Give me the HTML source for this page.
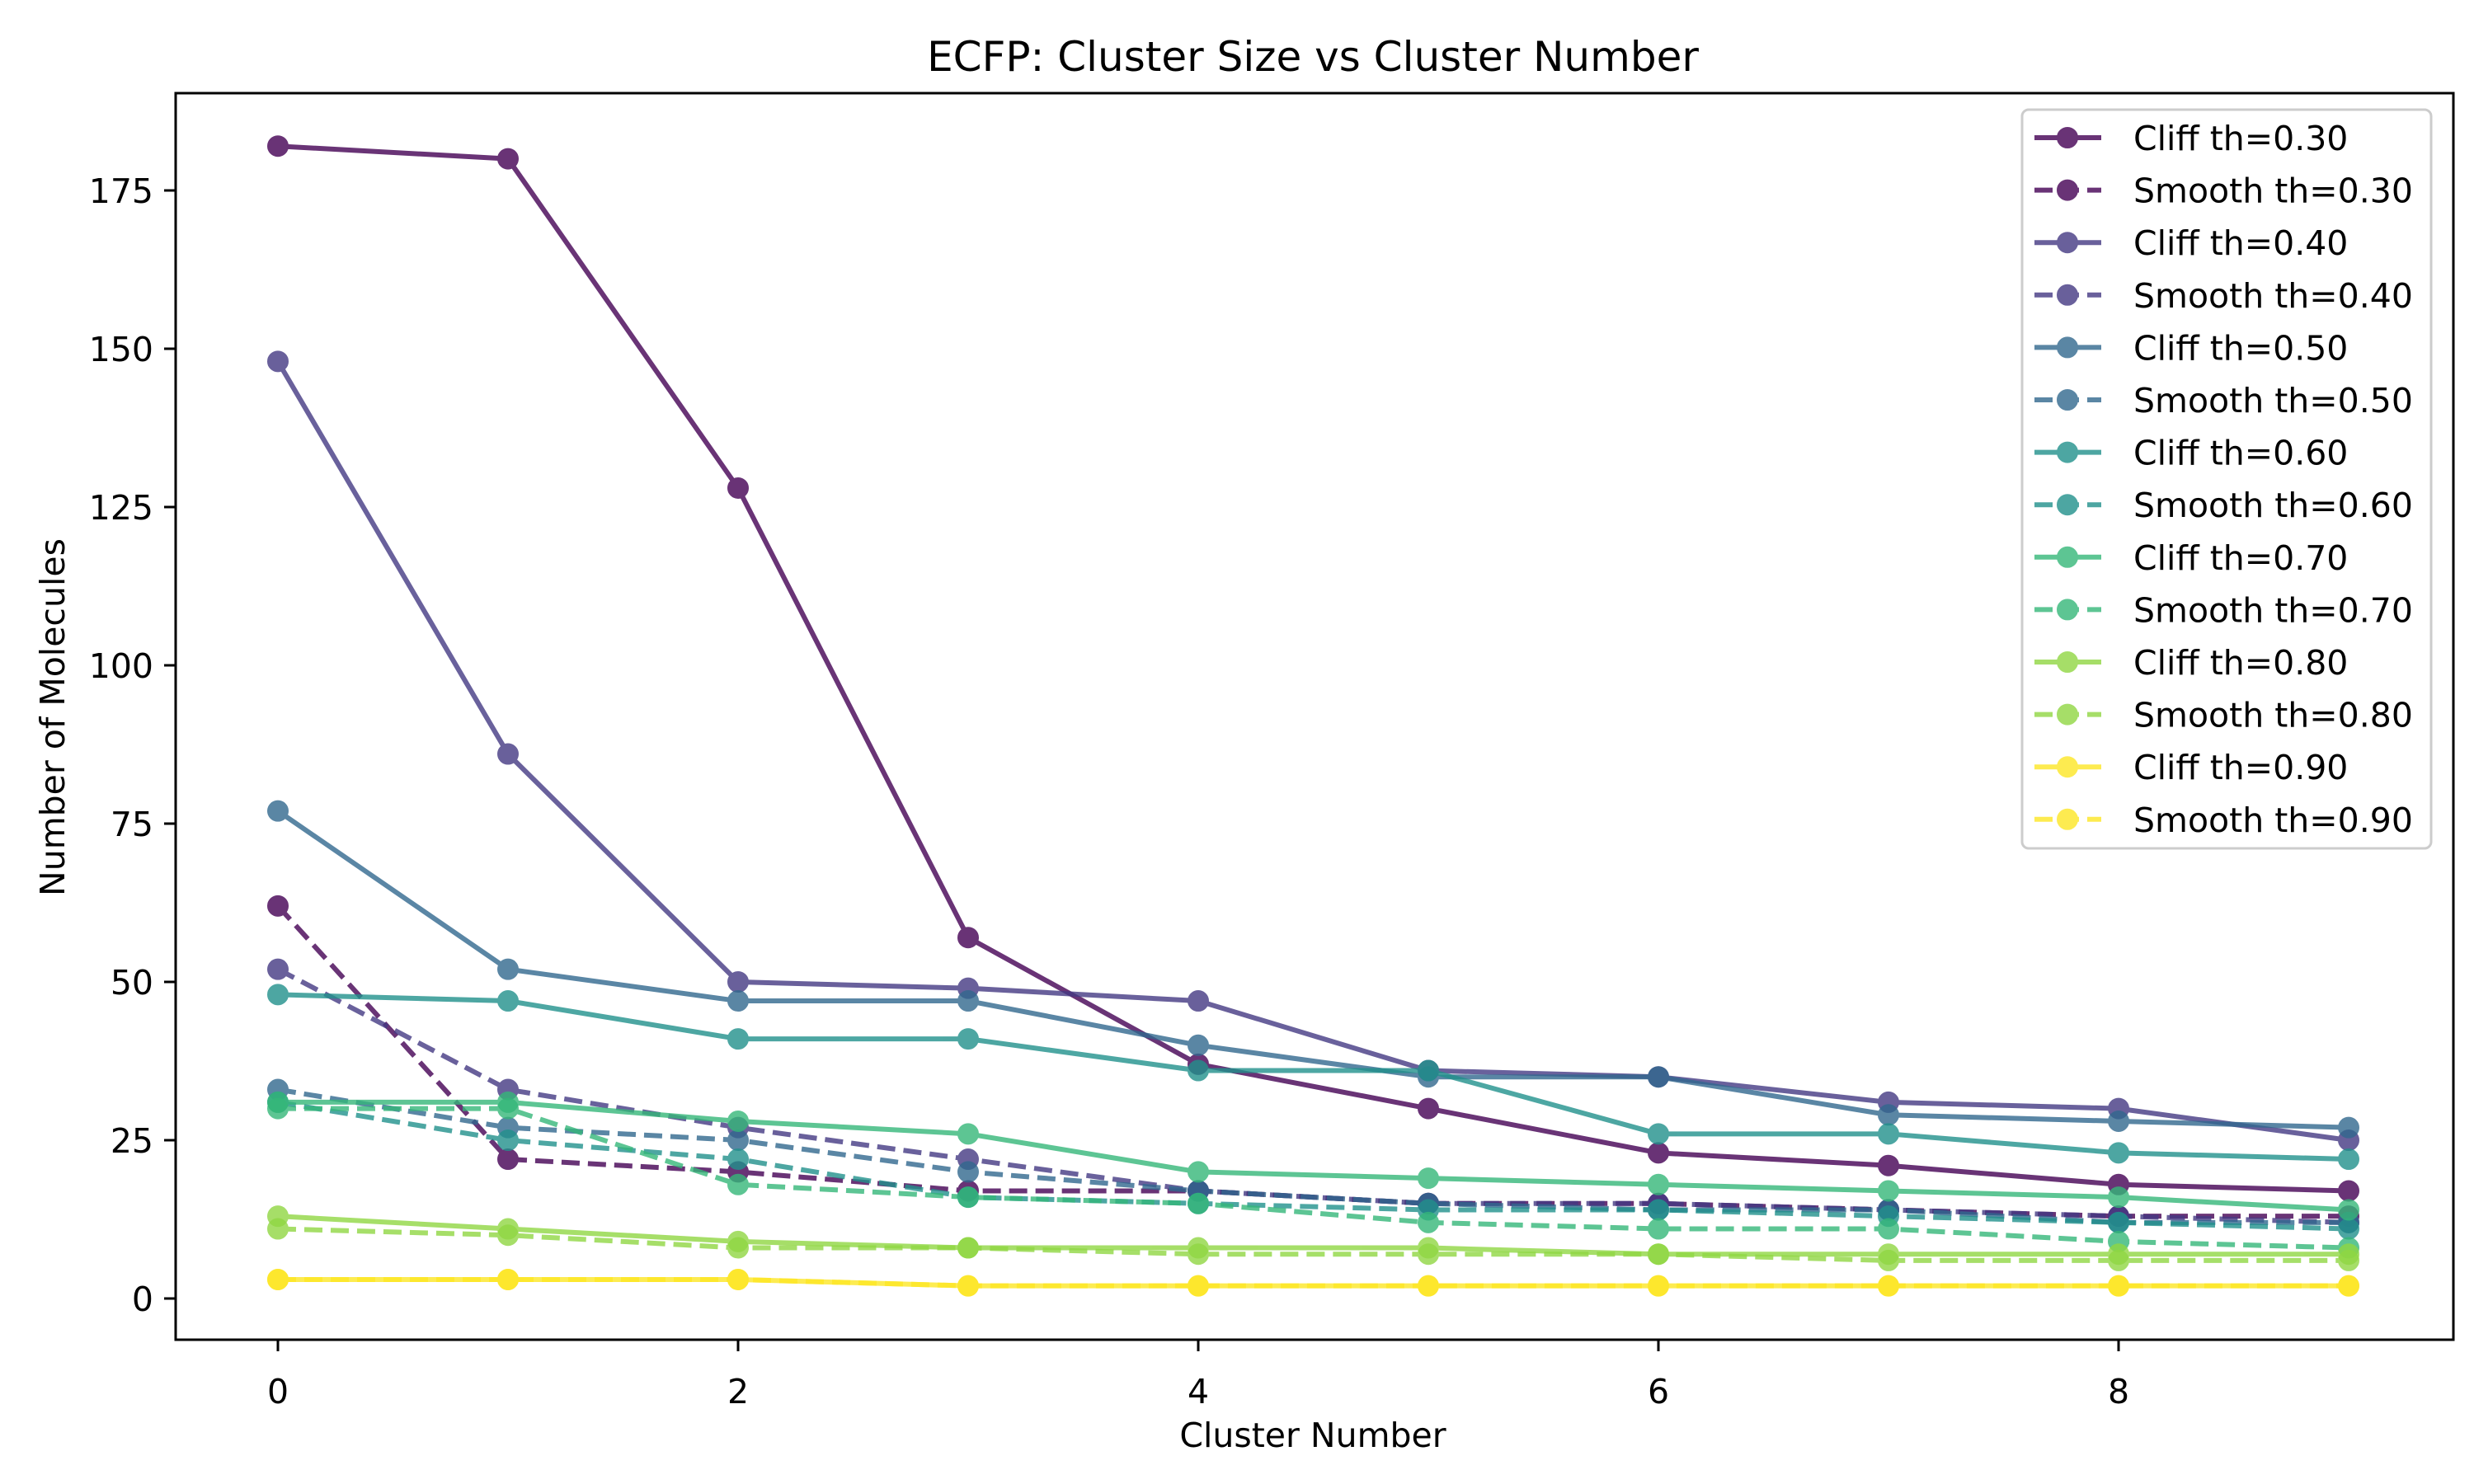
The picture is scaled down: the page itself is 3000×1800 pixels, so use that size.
<!DOCTYPE html>
<html><head><meta charset="utf-8"><style>
html,body{margin:0;padding:0;background:#fff;}
svg{display:block;font-family:"DejaVu Sans","Liberation Sans",sans-serif;}
</style></head><body>
<svg id="chart" width="3000" height="1800" viewBox="0 0 3000 1800" xmlns="http://www.w3.org/2000/svg">
<rect width="3000" height="1800" fill="#fff"/>
<text x="1592" y="86" font-size="50" text-anchor="middle">ECFP: Cluster Size vs Cluster Number</text>
<text x="1592" y="1755" font-size="41" text-anchor="middle">Cluster Number</text>
<text transform="translate(78,870) rotate(-90)" font-size="41" text-anchor="middle">Number of Molecules</text>
<g id="ticks"></g>
<g id="series"></g>
<rect x="213" y="113" width="2762" height="1512" fill="none" stroke="#000" stroke-width="3"/>
<g id="legend"></g>
</svg>
<script>
const clusters = [0,1,2,3,4,5,6,7,8,9];
const thresholds = ["0.30","0.40","0.50","0.60","0.70","0.80","0.90"];
const cliff30 = [182,180,128,57,37,30,23,21,18,17];
const smooth30 = [62,22,20,17,17,15,15,14,13,13];
const cliff40 = [148,86,50,49,47,36,35,31,30,25];
const smooth40 = [52,33,27,22,17,15,15,14,13,12];
const cliff50 = [77,52,47,47,40,35,35,29,28,27];
const smooth50 = [33,27,25,20,17,15,14,14,12,12];
const cliff60 = [48,47,41,41,36,36,26,26,23,22];
const smooth60 = [31,25,22,16,15,14,14,13,12,11];
const cliff70 = [31,31,28,26,20,19,18,17,16,14];
const smooth70 = [30,30,18,16,15,12,11,11,9,8];
const cliff80 = [13,11,9,8,8,8,7,7,7,7];
const smooth80 = [11,10,8,8,7,7,7,6,6,6];
const cliff90 = [3,3,3,2,2,2,2,2,2,2];
const smooth90 = [3,3,3,2,2,2,2,2,2,2];
const xTicks = [0,2,4,6,8];
const yTicks = [0,25,50,75,100,125,150,175];

const colors = ["#440154","#443983","#31688e","#21918c","#35b779","#90d743","#fde725"];
const cliffs = [cliff30,cliff40,cliff50,cliff60,cliff70,cliff80,cliff90];
const smooths = [smooth30,smooth40,smooth50,smooth60,smooth70,smooth80,smooth90];
const NS = "http://www.w3.org/2000/svg";
function xs(v){ return 337 + v*279; }
function ys(v){ return 1575 - v*7.68; }
function mk(tag, attrs, parent){ const e=document.createElementNS(NS,tag); for(const k in attrs) e.setAttribute(k,attrs[k]); parent.appendChild(e); return e; }

const tg = document.getElementById('ticks');
xTicks.forEach(t=>{
  const l = mk('line',{x1:xs(t),x2:xs(t),y1:1625,y2:1639,stroke:'#000','stroke-width':3},tg);
  
  
  const tx = mk('text',{x:xs(t),y:1702,'font-size':41,'text-anchor':'middle'},tg);
  tx.textContent = t;
  
  
});
yTicks.forEach(t=>{
  const l = mk('line',{x1:199,x2:213,y1:ys(t),y2:ys(t),stroke:'#000','stroke-width':3},tg);
  
  
  const tx = mk('text',{x:186,y:ys(t)+15,'font-size':41,'text-anchor':'end'},tg);
  tx.textContent = t;
  
  
});

const sg = document.getElementById('series');
function drawSeries(vals, color, dashed, name){
  const g = mk('g',{opacity:0.8},sg);
  
  
  const pts = vals.map((v,i)=>xs(clusters[i])+','+ys(v)).join(' ');
  mk('polyline',{points:pts,fill:'none',stroke:color,'stroke-width':6,'stroke-dasharray':dashed?'22,10':'none','stroke-linejoin':'round'},g);
  vals.forEach((v,i)=>{
    const c = mk('circle',{cx:xs(clusters[i]),cy:ys(v),r:12,fill:color,stroke:color,'stroke-width':2},g);
    
    
  });
}
thresholds.forEach((th,i)=>{
  drawSeries(cliffs[i], colors[i], false, 'cliff-series-'+th);
  drawSeries(smooths[i], colors[i], true, 'smooth-series-'+th);
});

const lg = document.getElementById('legend');
const box = mk('rect',{x:2452,y:133,width:496,height:896,rx:8,fill:'#fff','fill-opacity':0.8,stroke:'#ccc','stroke-width':3},lg);


thresholds.forEach((th,i)=>{
  [false,true].forEach((dashed,j)=>{
    const y = 167 + (i*2+j)*63.6;
    const g = mk('g',{},lg);
    
    
    const gg = mk('g',{opacity:0.8},g);
    mk('line',{x1:2467,x2:2548,y1:y,y2:y,stroke:colors[i],'stroke-width':6,'stroke-dasharray':dashed?'22,10':'none'},gg);
    mk('circle',{cx:2507,cy:y,r:12,fill:colors[i],stroke:colors[i],'stroke-width':2},gg);
    const t = mk('text',{x:2587,y:y+15,'font-size':41},g);
    t.textContent = (dashed?'Smooth':'Cliff')+' th='+th;
  });
});
</script>
</body></html>
